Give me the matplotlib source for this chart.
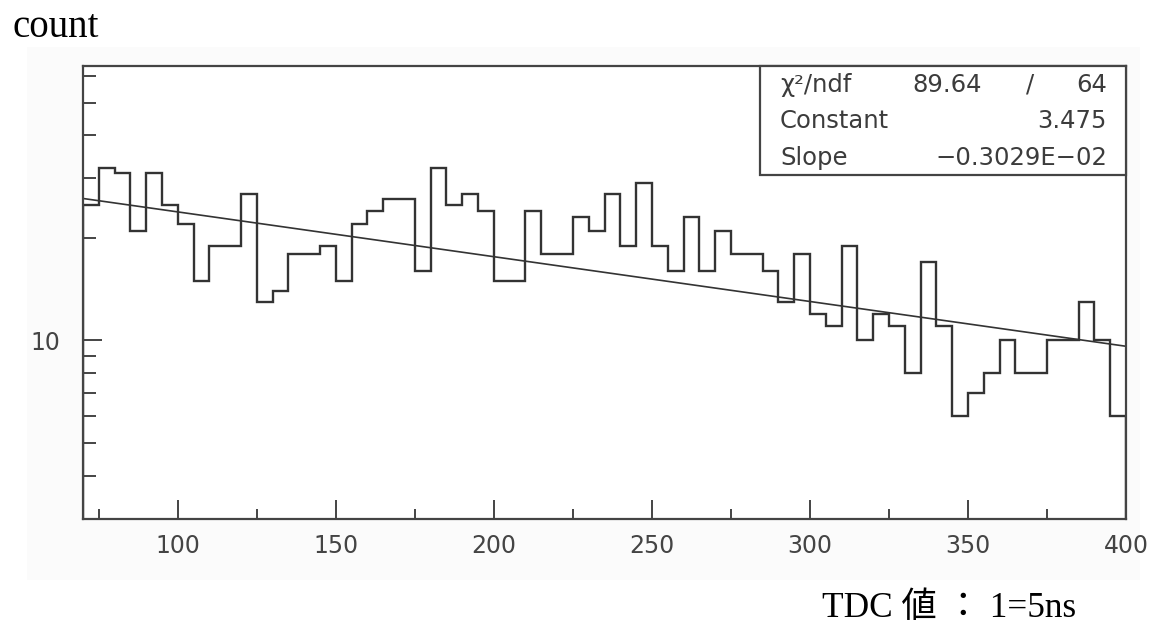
"""TDC spectrum with exponential fit (log scale)."""

import matplotlib.pyplot as plt
import numpy as np
from matplotlib.patches import Rectangle
from matplotlib.ticker import FixedLocator, NullFormatter

# histogram: 5-unit bins from 70 to 400
bin_lo = 70
bin_width = 5
counts = [25, 32, 31, 21, 31, 25, 22, 15, 19, 19, 27,
          13, 14, 18, 18, 19, 15, 22, 24, 26, 26,
          16, 32, 25, 27, 24, 15, 15, 24, 18, 18,
          23, 21, 27, 19, 29, 19, 16, 23, 16, 21,
          18, 18, 16, 13, 18, 12, 11, 19, 10, 12,
          11, 8, 17, 11, 6, 7, 8, 10, 8, 8,
          10, 10, 13, 10, 6]

# fit result: expo, N = exp(constant + slope * x)
fit_constant = 3.475
fit_slope = -0.3029e-02
stats_labels = ["\u03c7\u00b2/ndf", "Constant", "Slope"]
stats_values = ["89.64", "3.475", "\u22120.3029E\u221202"]
chi2_ndf = ("89.64", "64")

x_ticks = [100, 150, 200, 250, 300, 350, 400]
x_minor = [75, 125, 175, 225, 275, 325, 375]
y_major = [10]
y_minor = [3, 4, 5, 6, 7, 8, 9, 20, 30, 40, 50, 60]

edges = bin_lo + bin_width * np.arange(len(counts) + 1)

fig = plt.figure(figsize=(11.56, 6.24), dpi=100)
# faint grey backdrop of the pasted plot image
backdrop = Rectangle((27 / 1156, 1 - 580 / 624), 1113 / 1156, 533 / 624,
                     transform=fig.transFigure, facecolor="#fbfbfb",
                     edgecolor="none", zorder=-10)
fig.add_artist(backdrop)

ax = fig.add_axes([83 / 1156, 1 - 519 / 624, 1043 / 1156, 453 / 624])
ax.set_facecolor("white")
ax.set_zorder(1)

ax.stairs(counts, edges, color="#333333", linewidth=1.7)

xf = np.linspace(edges[0], edges[-1], 200)
ax.plot(xf, np.exp(fit_constant + fit_slope * xf), color="#333333", linewidth=1.2)

ax.set_yscale("log")
ax.set_xlim(70, 400)
ax.set_ylim(2.99, 64)

ax.xaxis.set_major_locator(FixedLocator(x_ticks))
ax.xaxis.set_minor_locator(FixedLocator(x_minor))
ax.yaxis.set_major_locator(FixedLocator(y_major))
ax.yaxis.set_minor_locator(FixedLocator(y_minor))
ax.yaxis.set_major_formatter(plt.FuncFormatter(lambda v, p: f"{v:g}"))
ax.yaxis.set_minor_formatter(NullFormatter())

ax.tick_params(axis="both", which="both", direction="in", color="#444444",
               width=1.4, labelcolor="#444444", labelsize=17)
ax.tick_params(axis="x", which="major", length=14, pad=11)
ax.tick_params(axis="x", which="minor", length=7)
ax.tick_params(axis="y", which="major", length=14, pad=16)
ax.tick_params(axis="y", which="minor", length=9)
for sp in ax.spines.values():
    sp.set_color("#444444")
    sp.set_linewidth(1.6)

# stats box in the upper right corner
ax.add_patch(Rectangle((760 / 1156, 1 - 175 / 624), 366 / 1156, 109 / 624,
                       transform=fig.transFigure, facecolor="white",
                       edgecolor="#444444", linewidth=1.6, zorder=5,
                       clip_on=False))
rows_y = [85, 121, 158]
txt = dict(fontsize=17.5, color="#3c3c3c", va="center", zorder=6)
for lab, yy in zip(stats_labels, rows_y):
    ax.text(780 / 1156, 1 - yy / 624, lab, ha="left", transform=fig.transFigure, **txt)
ax.text(982 / 1156, 1 - rows_y[0] / 624, chi2_ndf[0], ha="right",
        transform=fig.transFigure, **txt)
ax.text(1030 / 1156, 1 - rows_y[0] / 624, "/", ha="center",
        transform=fig.transFigure, **txt)
ax.text(1107 / 1156, 1 - rows_y[0] / 624, chi2_ndf[1], ha="right",
        transform=fig.transFigure, **txt)
for val, yy in zip(stats_values[1:], rows_y[1:]):
    ax.text(1107 / 1156, 1 - yy / 624, val, ha="right",
            transform=fig.transFigure, **txt)

serif = ["Liberation Serif", "Noto Sans CJK JP"]
fig.text(13 / 1156, 1 - 37 / 624, "count", fontsize=28, family=serif,
         va="baseline", ha="left")
fig.text(949 / 1156, 1 - 617 / 624, "TDC 値 ： 1=5ns", fontsize=25.4, family=serif,
         va="baseline", ha="center")

fig.savefig("out.png", dpi=100)
